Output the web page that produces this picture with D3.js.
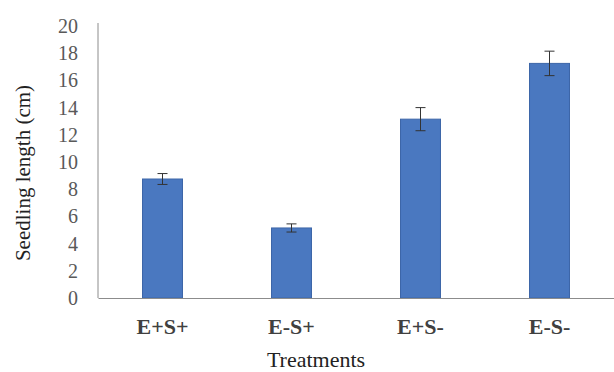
<!DOCTYPE html>
<meta charset="utf-8">
<style>
body { margin: 0; background: #fff; }
</style>
<body>
<script src="https://d3js.org/d3.v7.min.js"></script>
<script>
// chart values
var treatments = ["E+S+", "E-S+", "E+S-", "E-S-"];
var lengths = [8.75, 5.15, 13.15, 17.25];
var errors = [0.4, 0.3, 0.85, 0.9];
var yTicks = [0, 2, 4, 6, 8, 10, 12, 14, 16, 18, 20];

var serif = "'Liberation Serif'";
var W = 614, H = 372;
var margin = {top: 26, right: 0, bottom: 74, left: 98};

var svg = d3.select("body").append("svg")
    .attr("width", W)
    .attr("height", H);

var x = d3.scaleBand()
    .domain(treatments)
    .range([margin.left, W - margin.right])
    .paddingInner(0.69)
    .paddingOuter(0.345);

var y = d3.scaleLinear()
    .domain([0, 20])
    .range([H - margin.bottom, margin.top]);

// bars
svg.selectAll(".bar")
    .data(treatments)
  .enter().append("rect")
    .attr("class", "bar")
    .attr("x", function(d) { return x(d); })
    .attr("width", x.bandwidth())
    .attr("y", function(d, i) { return y(lengths[i]); })
    .attr("height", function(d, i) { return y(0) - y(lengths[i]); })
    .style("fill", "#4a78c0")
    .style("stroke", "#3d66a8")
    .style("stroke-width", 1);

// error bars
var eb = svg.selectAll(".err")
    .data(treatments)
  .enter().append("g")
    .attr("class", "err")
    .style("stroke", "#333")
    .style("stroke-width", 1);

eb.append("line")
    .attr("x1", function(d) { return x(d) + x.bandwidth() / 2; })
    .attr("x2", function(d) { return x(d) + x.bandwidth() / 2; })
    .attr("y1", function(d, i) { return y(lengths[i] - errors[i]); })
    .attr("y2", function(d, i) { return y(lengths[i] + errors[i]); });
eb.append("line")
    .attr("x1", function(d) { return x(d) + x.bandwidth() / 2 - 5; })
    .attr("x2", function(d) { return x(d) + x.bandwidth() / 2 + 5; })
    .attr("y1", function(d, i) { return y(lengths[i] + errors[i]); })
    .attr("y2", function(d, i) { return y(lengths[i] + errors[i]); });
eb.append("line")
    .attr("x1", function(d) { return x(d) + x.bandwidth() / 2 - 5; })
    .attr("x2", function(d) { return x(d) + x.bandwidth() / 2 + 5; })
    .attr("y1", function(d, i) { return y(lengths[i] - errors[i]); })
    .attr("y2", function(d, i) { return y(lengths[i] - errors[i]); });

// y axis
var yAxis = svg.append("g")
    .attr("transform", "translate(" + margin.left + ",0)")
    .call(d3.axisLeft(y).tickValues(yTicks).tickSize(0).tickPadding(20));
yAxis.select(".domain").attr("stroke", "#8c8c8c").attr("d", "M0," + (margin.top - 3) + "V" + y(0));
yAxis.selectAll("text")
    .style("font-family", serif)
    .style("font-size", "20px")
    .attr("fill", "#595959");

// x axis
var xAxis = svg.append("g")
    .attr("transform", "translate(0," + y(0) + ")")
    .call(d3.axisBottom(x).tickSize(0).tickPadding(20));
xAxis.select(".domain").attr("stroke", "#8c8c8c");
xAxis.selectAll("text")
    .style("font-family", serif)
    .style("font-size", "22px")
    .style("font-weight", "bold")
    .attr("fill", "#404040");

// axis titles
svg.append("text")
    .attr("x", 316)
    .attr("y", 367)
    .attr("text-anchor", "middle")
    .style("font-family", serif)
    .style("font-size", "22px")
    .attr("fill", "#222")
    .text("Treatments");

svg.append("text")
    .attr("transform", "translate(30,173) rotate(-90)")
    .attr("text-anchor", "middle")
    .style("font-family", serif)
    .style("font-size", "21px")
    .attr("fill", "#222")
    .text("Seedling length (cm)");
</script>
</body>
